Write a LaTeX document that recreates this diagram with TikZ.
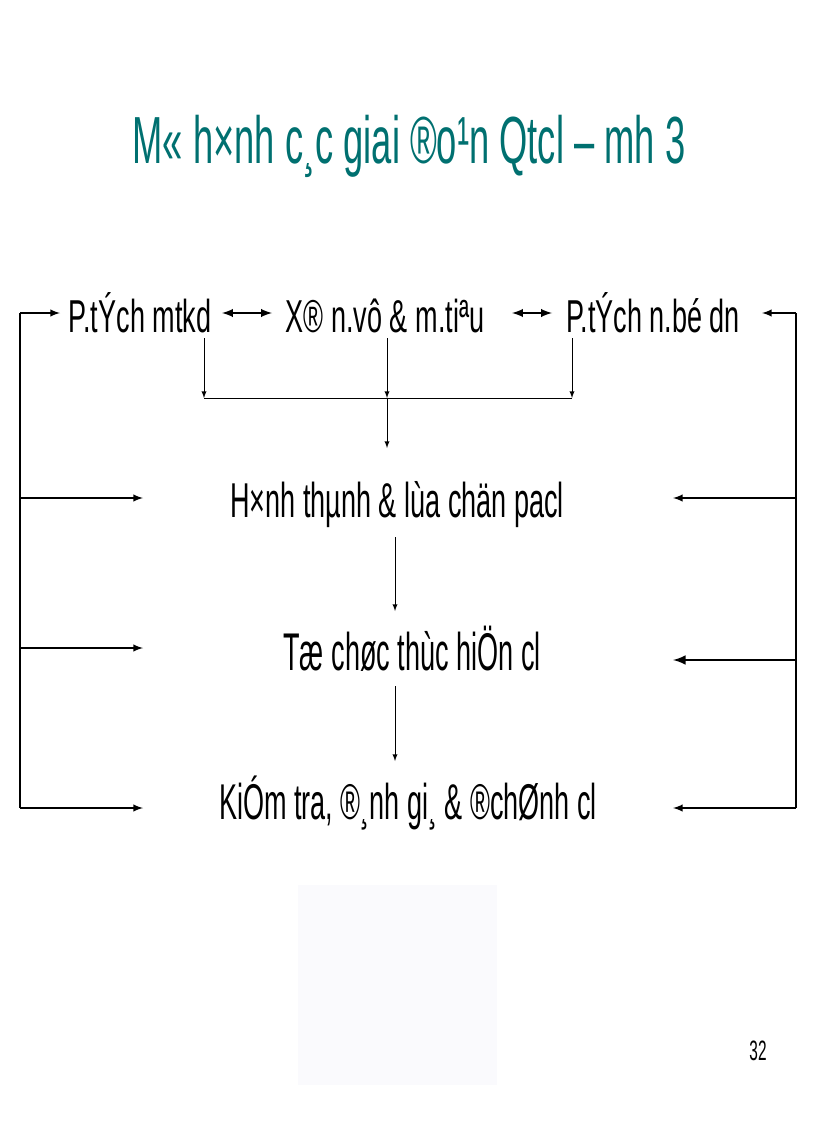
\documentclass[tikz,border=0pt]{standalone}
\usepackage{fontspec}
\setmainfont{Liberation Sans}
\usepackage{graphicx}
\definecolor{TealTitre}{HTML}{007070}
\definecolor{GrisFond}{HTML}{FAFAFD}
\usetikzlibrary{arrows}
\usetikzlibrary{positioning}
\newcommand{\etroit}[2][0.55]{\scalebox{#1}[1]{#2}}
\tikzset{
	etape/.style={inner sep=2pt, anchor=base, font=\fontsize{#1}{#1}\selectfont},
	fleche/.style={->,>=latex, line width=0.75pt},
	boucle/.style={->,>=latex, line width=1.5pt}
}
\begin{document}
\begin{tikzpicture}[x=0.75pt,y=-0.75pt]
	\useasboundingbox (0,0) rectangle (816,1123);
	%
	\node[anchor=base, text=TealTitre, font=\fontsize{50}{52}\selectfont] at (409,164) (titre) {\etroit[0.545]{M« h×nh c¸c giai ®o¹n Qtcl – mh 3}};
	%
	\node[etape=34.6] at (140,332) (mtkd) {\etroit[0.586]{P.tÝch mtkd}};
	\node[etape=34.6] at (385,332) (nvu) {\etroit[0.586]{X® n.vô \& m.tiªu}};
	\node[etape=34.6] at (653,332) (nbdn) {\etroit[0.586]{P.tÝch n.bé dn}};
	\node[etape=36.7] at (397,517) (pacl) {\etroit[0.553]{H×nh thµnh \& lùa chän pacl}};
	\node[etape=39.8] at (412,670) (thcl) {\etroit[0.51]{Tæ chøc thùc hiÖn cl}};
	\node[etape=37.7] at (408,819) (ktcl) {\etroit[0.538]{KiÓm tra, ®¸nh gi¸ \& ®chØnh cl}};
	\node[anchor=base, font=\fontsize{21}{23}\selectfont] at (758,1060) (page) {\etroit[0.55]{32}};
	%
	\fill[GrisFond] (298,885) rectangle (497,1085);
	%
	\coordinate (gH) at (20,313);
	\coordinate (gB) at (20,808);
	\coordinate (dH) at (796,313);
	\coordinate (dB) at (796,808);
	\coordinate (jonction) at (387,398);
	%
	\draw[<->,>=latex, line width=1.8pt] (222,313) -- (272,313);
	\draw[<->,>=latex, line width=1.8pt] (512,313) -- (552,313);
	%
	\draw[fleche] (mtkd.base -| 204,0) ++(0,6) -- (204,398);
	\draw[fleche] (nvu.base -| jonction) ++(0,6) -- (jonction);
	\draw[fleche] (nbdn.base -| 572,0) ++(0,6) -- (572,398);
	\draw[line width=0.75pt] (204,398) -- (572,398);
	\draw[fleche] (jonction) -- (387,448);
	\draw[fleche] (pacl.base -| 395,0) ++(0,20) -- (395,611);
	\draw[fleche] (thcl.base -| 395,0) ++(0,16) -- (395,761);
	%
	% boucles
	\draw[line width=1.5pt] (gH) -- (gB);
	\draw[line width=1.5pt] (dH) -- (dB);
	\draw[boucle] (gH) -- (60,313);
	\draw[boucle] (dH) -- (762,313);
	\draw[boucle] (20,498) -- (143,498);
	\draw[boucle] (20,648) -- (143,648);
	\draw[boucle] (gB) -- (143,808);
	\draw[boucle] (796,498) -- (673,498);
	\draw[boucle, line width=2.2pt] (796,660) -- (673,660);
	\draw[boucle] (dB) -- (673,808);
\end{tikzpicture}
\end{document}
